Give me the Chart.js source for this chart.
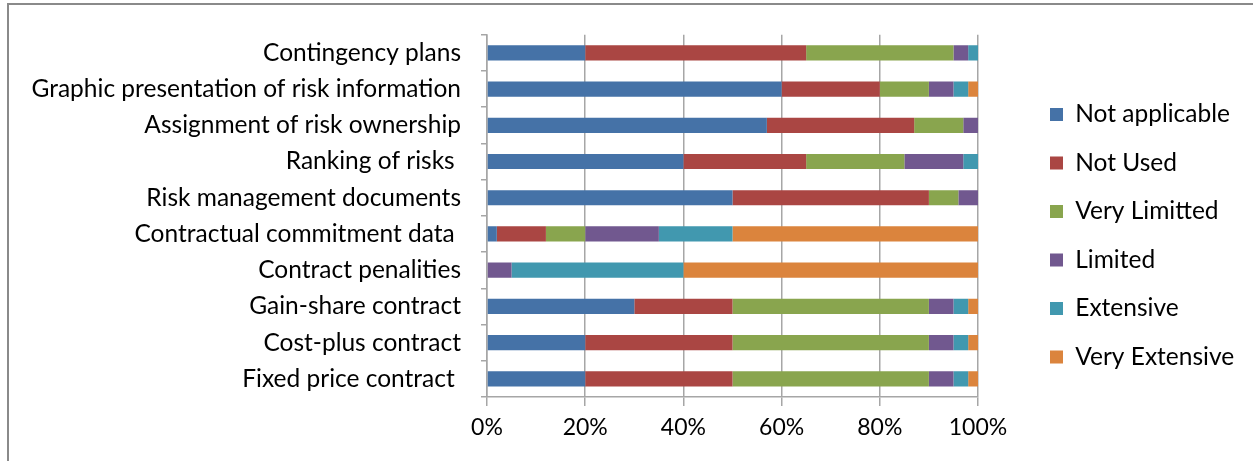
<!DOCTYPE html>
<html>
<head>
<meta charset="utf-8">
<script src="https://cdn.jsdelivr.net/npm/chart.js@4/dist/chart.umd.min.js"></script>
<style>
  html, body { margin: 0; padding: 0; background: #fff; }
  #wrap { position: relative; width: 1253px; height: 461px; overflow: hidden; }
  #c { position: absolute; left: 0; top: 0; }
  #frame { position: absolute; left: 7px; top: 3px; width: 1260px; height: 470px;
           border-top: 2px solid #8a8a8a; border-left: 2px solid #8a8a8a; pointer-events: none; }
</style>
</head>
<body>
<div id="wrap">
  <canvas id="c" width="1253" height="461"></canvas>
  <div id="frame"></div>
</div>
<script>
const categories = [
  "Contingency plans",
  "Graphic presentation of risk information",
  "Assignment of risk ownership",
  "Ranking of risks ",
  "Risk management documents",
  "Contractual commitment data ",
  "Contract penalities",
  "Gain-share contract",
  "Cost-plus contract",
  "Fixed price contract "
];
const seriesNames = ["Not applicable", "Not Used", "Very Limitted", "Limited", "Extensive", "Very Extensive"];
const notApplicable = [20, 60, 57, 40, 50, 2, 0, 30, 20, 20];
const notUsed       = [45, 20, 30, 25, 40, 10, 0, 20, 30, 30];
const veryLimitted  = [30, 10, 10, 20, 6, 8, 0, 40, 40, 40];
const limited       = [3, 5, 3, 12, 4, 15, 5, 5, 5, 5];
const extensive     = [2, 3, 0, 3, 0, 15, 35, 3, 3, 3];
const veryExtensive = [0, 2, 0, 0, 0, 50, 60, 2, 2, 2];
const xTickLabels = ["0%", "20%", "40%", "60%", "80%", "100%"];

const colors = ["#4572A7", "#AA4643", "#89A54E", "#71588F", "#4198AF", "#DB843D"];
const seriesValues = [notApplicable, notUsed, veryLimitted, limited, extensive, veryExtensive];

const FONT = "Lato";
const PLOT_LEFT = 487, PLOT_RIGHT = 978, PLOT_TOP = 33, PLOT_BOTTOM = 397;
const W = 1253, H = 461;
const LEG_FONT = 24.5, LEG_PAD = 24, LEG_X = 1050, LEG_FIRST_CENTER = 113;

const legendPlace = {
  id: 'legendPlace',
  beforeInit(chart) {
    const lg = chart.legend;
    const origFit = lg.fit;
    lg.fit = function () {
      origFit.call(this);
      this.width = W - PLOT_RIGHT;
    };
  },
  afterLayout(chart) {
    const lg = chart.legend;
    lg.left = LEG_X - LEG_PAD;
    lg.top = LEG_FIRST_CENTER - LEG_PAD - LEG_FONT / 2 + 1.5;
    lg.bottom = H;
  }
};

new Chart(document.getElementById('c'), {
  type: 'bar',
  data: {
    labels: categories,
    datasets: seriesNames.map((n, i) => ({
      label: n,
      data: seriesValues[i],
      backgroundColor: colors[i],
      borderWidth: 0,
      barPercentage: 0.42,
      categoryPercentage: 1.0
    }))
  },
  options: {
    indexAxis: 'y',
    responsive: false,
    animation: false,
    layout: { padding: { top: PLOT_TOP, left: 0, right: 0, bottom: 0 } },
    plugins: {
      tooltip: { enabled: false },
      legend: {
        position: 'right',
        align: 'start',
        labels: {
          boxWidth: 13,
          boxHeight: 13,
          padding: LEG_PAD,
          color: '#000',
          font: { family: FONT, size: LEG_FONT }
        }
      }
    },
    scales: {
      x: {
        stacked: true,
        min: 0, max: 100,
        ticks: {
          stepSize: 20,
          color: '#000',
          padding: 8,
          font: { family: FONT, size: 23 },
          callback: (v, i) => xTickLabels[i]
        },
        grid: { color: '#a6a6a6', lineWidth: 1.5, tickLength: 9, drawTicks: true },
        border: { color: '#a6a6a6', width: 1.5 },
        afterFit: (s) => { s.height = H - PLOT_BOTTOM; }
      },
      y: {
        stacked: true,
        ticks: {
          color: '#000',
          padding: 20,
          font: { family: FONT, size: 24.5 }
        },
        grid: { drawOnChartArea: false, color: '#a6a6a6', lineWidth: 1.5, tickLength: 6, offset: true },
        border: { color: '#a6a6a6', width: 1.5 },
        afterFit: (s) => { s.width = PLOT_LEFT; }
      }
    }
  },
  plugins: [legendPlace]
});
</script>
</body>
</html>
